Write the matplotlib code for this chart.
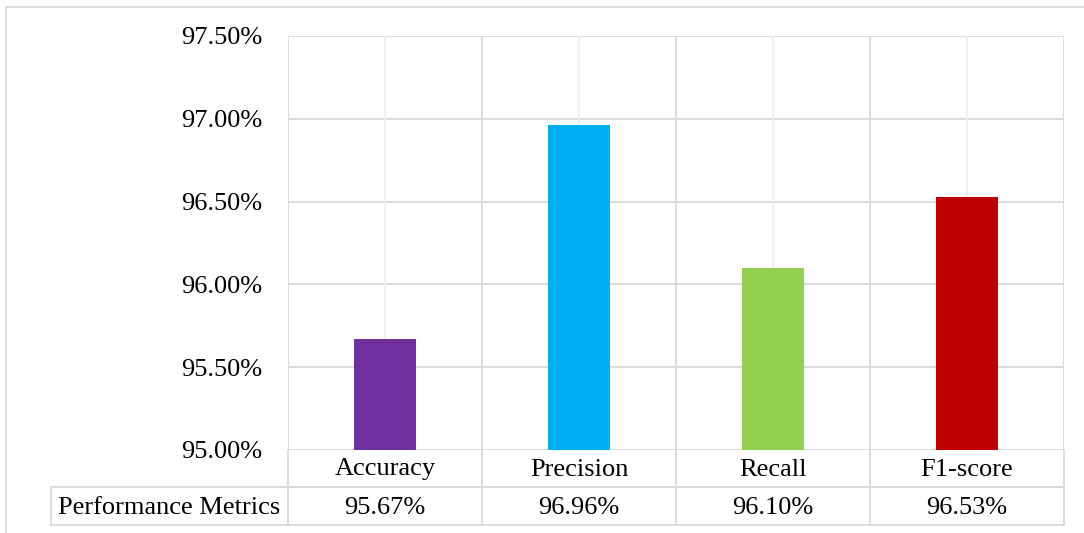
import matplotlib.pyplot as plt
from matplotlib.transforms import blended_transform_factory
from matplotlib.patches import Rectangle
from matplotlib.ticker import FuncFormatter

categories = ["Accuracy", "Precision", "Recall", "F1-score"]
values = [95.67, 96.96, 96.10, 96.53]
colors = ["#7030A0", "#00B0F0", "#92D050", "#C00000"]
series_name = "Performance Metrics"
y_ticks = [95.0, 95.5, 96.0, 96.5, 97.0, 97.5]

plt.rcParams["font.family"] = ["Liberation Serif", "DejaVu Serif"]

W, H = 1084, 533
fig = plt.figure(figsize=(W / 100, H / 100), dpi=100)
# plot area in pixels: left 288, right 1064, top 36, bottom 450
L, R, T, B = 288, 1064, 36, 450
ax = fig.add_axes([L / W, 1 - B / H, (R - L) / W, (B - T) / H])

FS = 19
grid_c = "#D9D9D9"
n = len(categories)
x = list(range(n))
ax.bar(x, [v - y_ticks[0] for v in values], bottom=y_ticks[0],
       width=0.315, color=colors, zorder=3)

ax.set_xlim(-0.5, n - 0.5)
ax.set_ylim(y_ticks[0], y_ticks[-1])
ax.set_yticks(y_ticks)
ax.yaxis.set_major_formatter(FuncFormatter(lambda v, p: f"{v:.2f}%"))
ax.tick_params(axis="y", length=0, pad=18.5, labelsize=FS, colors="black")
ax.set_xticks([])
for s in ax.spines.values():
    s.set_visible(False)

# horizontal gridlines
for yv in y_ticks:
    ax.axhline(yv, color=grid_c, lw=1.3, zorder=1)
# vertical gridlines at category boundaries and centres
for i in range(n + 1):
    ax.axvline(i - 0.5, color=grid_c, lw=1.3, zorder=1)
for i in range(n):
    ax.axvline(i, color="#EFEFEF", lw=1.3, zorder=1)

# data table under the plot
tr = blended_transform_factory(ax.transData, ax.transAxes)
h = B - T
r1 = -37 / h
r2 = -75 / h
x_left = -0.5 - (L - 51) / ((R - L) / n)
kw = dict(color=grid_c, lw=1.3, transform=tr, clip_on=False, zorder=2)
ax.plot([-0.5, n - 0.5], [r1, r1], **kw)
ax.plot([x_left, n - 0.5], [r1, r1], **kw)
ax.plot([x_left, n - 0.5], [r2, r2], **kw)
ax.plot([x_left, x_left], [r1, r2], **kw)
for i in range(n + 1):
    ax.plot([i - 0.5, i - 0.5], [0, r2], **kw)

y_lab = -19.5 / h
y_val = -58.5 / h
for i, (c, v) in enumerate(zip(categories, values)):
    ax.text(i, y_lab, c, transform=tr, ha="center", va="center", fontsize=FS)
    ax.text(i, y_val, f"{v:.2f}%", transform=tr, ha="center",
            va="center", fontsize=FS)
ax.text((x_left - 0.5) / 2, y_val, series_name, transform=tr,
        ha="center", va="center", fontsize=FS)

# chart border
fig.patches.append(Rectangle((5.5 / W, -0.1), 1.2, 1 - 7.5 / H + 0.1,
                             transform=fig.transFigure, fill=False,
                             edgecolor=grid_c, lw=1.3))

fig.savefig("out.png", dpi=100)
